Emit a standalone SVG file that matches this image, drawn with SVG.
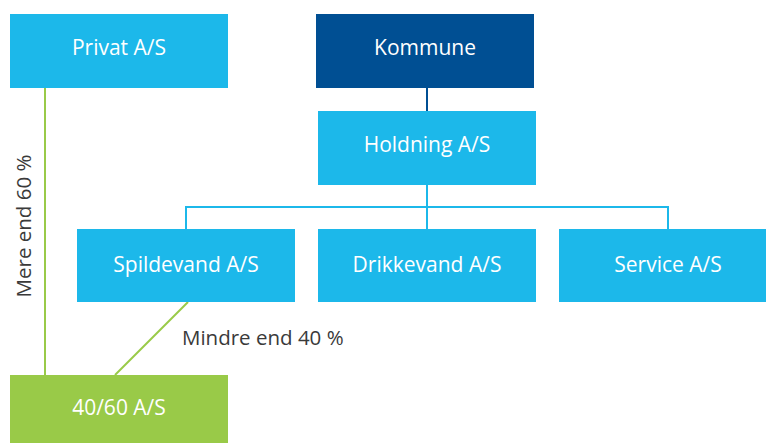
<svg xmlns="http://www.w3.org/2000/svg" width="766" height="443" viewBox="0 0 766 443">
<style>
.box{fill:#1cb8ea}
.dark{fill:#004f93}
.green{fill:#99ca48}
.t{font-family:"Open Sans","Noto Sans",sans-serif;font-size:21px;fill:#ffffff;text-anchor:middle}
.lbl{font-family:"Open Sans","Noto Sans",sans-serif;font-size:20.5px;fill:#3a3a3a}
.cb{stroke:#1cb8ea;stroke-width:2;fill:none}
.cd{stroke:#004f93;stroke-width:2;fill:none}
.cg{stroke:#99ca48;stroke-width:2;fill:none}
</style>
<g id="connectors">
<line class="cd" x1="427" y1="88" x2="427" y2="111"/>
<path class="cb" d="M427 185 V207 M186 229 V207 H668 V229 M427 207 V229"/>
<line class="cg" x1="45" y1="88" x2="45" y2="375"/>
<line class="cg" x1="188" y1="302" x2="115" y2="375"/>
</g>
<g id="privat"><rect class="box" x="10" y="14" width="218" height="74"/><text class="t" x="119" y="55">Privat A/S</text></g>
<g id="kommune"><rect class="dark" x="316" y="14" width="218" height="74"/><text class="t" x="425" y="55">Kommune</text></g>
<g id="holdning"><rect class="box" x="318" y="111" width="218" height="74"/><text class="t" x="427" y="152">Holdning A/S</text></g>
<g id="spildevand"><rect class="box" x="77" y="229" width="218" height="73"/><text class="t" x="186" y="272">Spildevand A/S</text></g>
<g id="drikkevand"><rect class="box" x="318" y="229" width="218" height="73"/><text class="t" x="427" y="272">Drikkevand A/S</text></g>
<g id="service"><rect class="box" x="559" y="229" width="207" height="73"/><text class="t" x="668" y="272">Service A/S</text></g>
<g id="a4060"><rect class="green" x="10" y="375" width="218" height="68"/><text class="t" x="119" y="415">40/60 A/S</text></g>
<g id="labels">
<text class="lbl" x="0" y="0" text-anchor="middle" transform="translate(31,226) rotate(-90)">Mere end 60 %</text>
<text class="lbl" x="182" y="345">Mindre end 40 %</text>
</g>
</svg>
